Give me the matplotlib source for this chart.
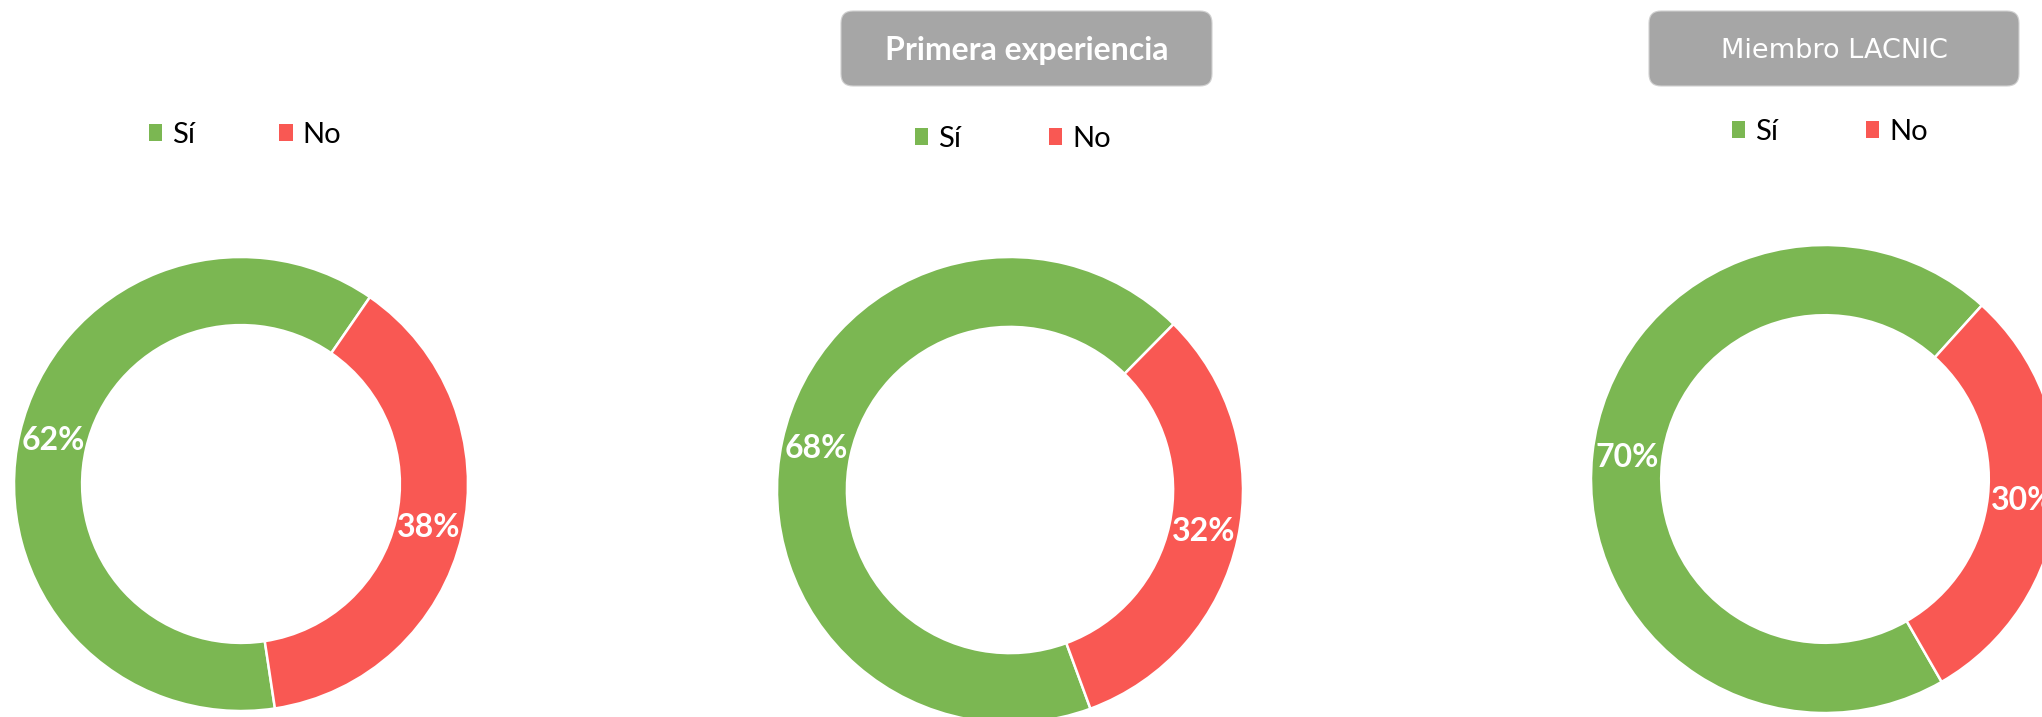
import matplotlib
matplotlib.use("Agg")
import matplotlib.pyplot as plt
from matplotlib import font_manager as fm
from matplotlib.patches import FancyBboxPatch, Patch

# ---------------- data ----------------
categories = ["Sí", "No"]
chart1_values = [62, 38]
chart2_values = [68, 32]
chart3_values = [70, 30]
chart_titles = [None, "Primera experiencia", "Miembro LACNIC"]

colors = ["#7BB752", "#F95853"]
box_color = "#A6A6A6"

W, H = 2042, 717
fig = plt.figure(figsize=(W / 100, H / 100), dpi=100)
fig.patch.set_facecolor("white")

names = {f.name for f in fm.fontManager.ttflist}


def pick(*cands):
    for n in cands:
        if n in names:
            return n
    return "DejaVu Sans"


calibri_like = pick("Lato", "Open Sans", "DejaVu Sans")
verdana_like = pick("DejaVu Sans")

# layout (pixels): center x, center y, outer radius, start angle (deg, ccw from +x)
layouts = [
    dict(cx=241, cy=484, r=227, start=-81.4),
    dict(cx=1010, cy=490, r=233, start=-69.8),
    dict(cx=1825, cy=479, r=234, start=-60.1),
]
all_values = [chart1_values, chart2_values, chart3_values]

pad = 1.03
for vals, lay in zip(all_values, layouts):
    rr = lay["r"] * pad
    ax = fig.add_axes([(lay["cx"] - rr) / W, (H - lay["cy"] - rr) / H,
                       2 * rr / W, 2 * rr / H])
    ax.pie(vals, colors=colors, startangle=lay["start"], counterclock=False,
           radius=1.0, autopct="%1.0f%%", pctdistance=0.85,
           wedgeprops=dict(width=0.30, edgecolor="white", linewidth=1.8),
           textprops=dict(color="white", fontsize=23, fontweight="bold",
                          family=calibri_like))
    ax.set_xlim(-pad, pad)
    ax.set_ylim(-pad, pad)
    ax.set_aspect("equal")
    ax.axis("off")

# overlay axes in pixel coordinates for title boxes
ov = fig.add_axes([0, 0, 1, 1])
ov.set_xlim(0, W)
ov.set_ylim(H, 0)
ov.axis("off")

boxes = [None, (841, 11, 1212, 86), (1649, 11, 2019, 86)]
title_fonts = [None, dict(family=calibri_like, size=23, weight="bold"),
               dict(family=verdana_like, size=19.5, weight="normal")]
for title, bx, tf in zip(chart_titles, boxes, title_fonts):
    if title is None:
        continue
    x0, y0, x1, y1 = bx
    p = FancyBboxPatch((x0, y0), x1 - x0, y1 - y0,
                       boxstyle="round,pad=0,rounding_size=12",
                       facecolor=box_color, edgecolor="#D0D0D0", linewidth=0.8)
    ov.add_patch(p)
    ov.text((x0 + x1) / 2, (y0 + y1) / 2 + 2, title, color="white",
            ha="center", va="center", fontsize=tf["size"], family=tf["family"],
            fontweight=tf["weight"])

# legends
handles = [Patch(facecolor=c, edgecolor="none") for c in colors]
legend_specs = [
    dict(x=245, y=135, colsp=2.9),
    dict(x=1013, y=139, colsp=3.0),
    dict(x=1830, y=132, colsp=3.0),
]
for spec in legend_specs:
    fig.legend(handles, categories, loc="center",
               bbox_to_anchor=(spec["x"] / W, 1 - spec["y"] / H),
               ncol=2, frameon=False, handlelength=0.45, handleheight=0.5,
               handletextpad=0.35, columnspacing=spec["colsp"],
               prop=dict(family=calibri_like, size=21))

fig.savefig("out.png", dpi=100, facecolor="white")
